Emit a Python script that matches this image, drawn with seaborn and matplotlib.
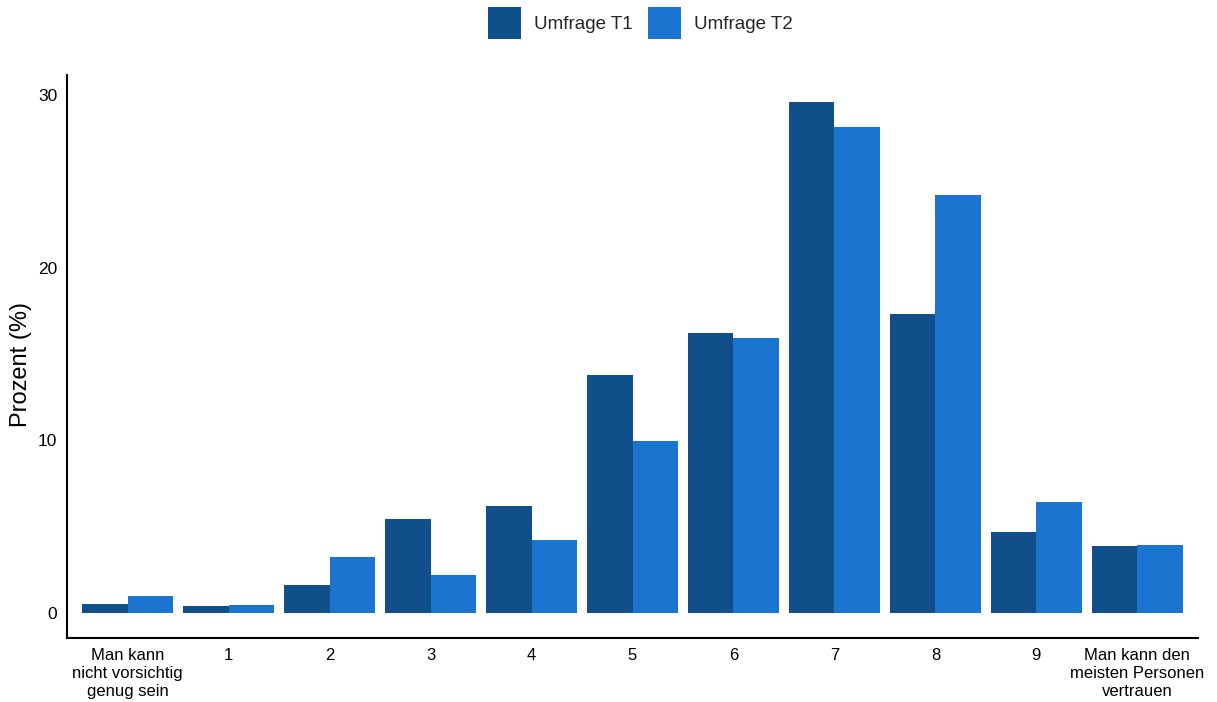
import matplotlib
matplotlib.use("Agg")
import matplotlib.pyplot as plt
import seaborn as sns
import pandas as pd

categories = ["Man kann\nnicht vorsichtig\ngenug sein", "1", "2", "3", "4", "5", "6", "7", "8", "9",
              "Man kann den\nmeisten Personen\nvertrauen"]
umfrage_t1 = [0.52, 0.4, 1.62, 5.44, 6.2, 13.78, 16.21, 29.59, 17.31, 4.69, 3.88]
umfrage_t2 = [0.98, 0.46, 3.24, 2.2, 4.23, 9.96, 15.92, 28.14, 24.2, 6.43, 3.94]
series = ["Umfrage T1", "Umfrage T2"]

df = pd.DataFrame({
    "Kategorie": categories * 2,
    "Prozent": umfrage_t1 + umfrage_t2,
    "Umfrage": [series[0]] * len(categories) + [series[1]] * len(categories),
})

sns.set_theme(style="white")
plt.rcParams["font.family"] = ["Liberation Sans", "DejaVu Sans"]

fig = plt.figure(figsize=(12.17, 7.02), dpi=100)
ax = fig.add_axes([67 / 1217, 1 - 638 / 702, (1198 - 67) / 1217, (638 - 75) / 702])

palette = {"Umfrage T1": "#114f8b", "Umfrage T2": "#1b75d0"}
sns.barplot(data=df, x="Kategorie", y="Prozent", hue="Umfrage", order=categories,
            hue_order=series, palette=palette, width=0.9, saturation=1,
            linewidth=0, ax=ax)

ax.set_xlim(-0.6, 10.6)
ax.set_ylim(-1.45, 31.15)
ax.set_yticks([0, 10, 20, 30])
ax.set_xticks(range(len(categories)))
ax.set_xticklabels(categories, linespacing=1.28)
ax.tick_params(axis="both", length=0, colors="black")
ax.tick_params(axis="y", pad=7, labelsize=12.5)
ax.tick_params(axis="x", pad=7, labelsize=12)
ax.set_xlabel("")
ax.set_ylabel("Prozent (%)", fontsize=17, color="black")
ax.yaxis.set_label_coords(-0.031, 0.485)
for side in ["top", "right"]:
    ax.spines[side].set_visible(False)
for side in ["left", "bottom"]:
    ax.spines[side].set_color("black")
    ax.spines[side].set_linewidth(1.5)

ax.legend(loc="upper center", bbox_to_anchor=(0.507, 1.151), ncol=2, frameon=False,
          fontsize=13.5, handlelength=1.75, handleheight=2.3, handletextpad=0.7,
          columnspacing=0.8)

fig.savefig("out.png", dpi=100)
